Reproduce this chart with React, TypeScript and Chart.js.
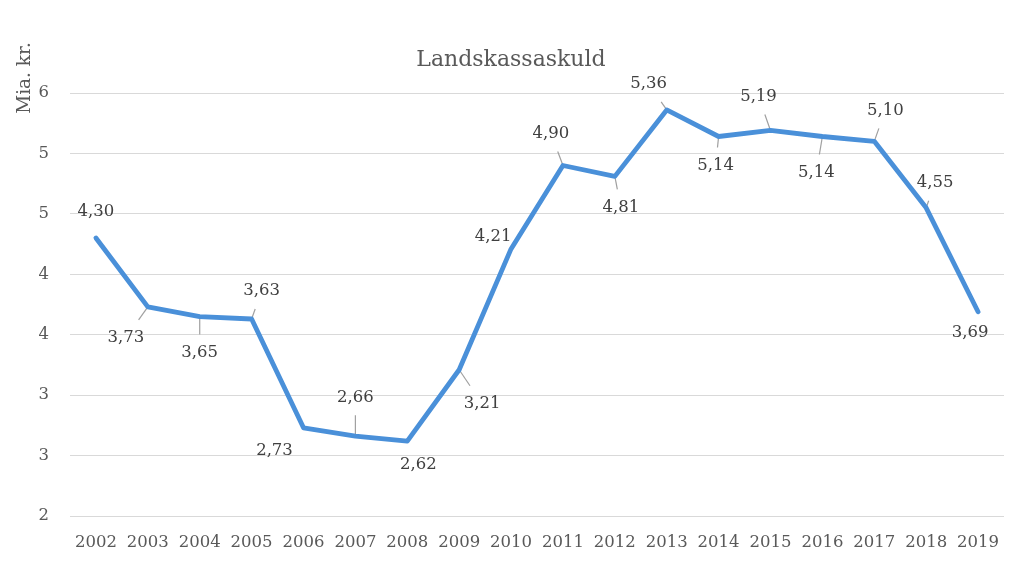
import React, { useEffect, useRef } from "react";
import { Chart, registerables } from "chart.js";

Chart.register(...registerables);

const years = ["2002","2003","2004","2005","2006","2007","2008","2009","2010","2011","2012","2013","2014","2015","2016","2017","2018","2019"];
const debt = [4.30, 3.73, 3.65, 3.63, 2.73, 2.66, 2.62, 3.21, 4.21, 4.90, 4.81, 5.36, 5.14, 5.19, 5.14, 5.10, 4.55, 3.69];
const titleText = "Landskassaskuld";
const yAxisTitle = "Mia. kr.";

// label placement (pixel offsets from the point) and whether a leader line is drawn
const labelOffsets: [number, number][] = [
  [0, -26], [-22, 31], [0, 36], [10, -28], [-29, 23], [0, -39], [11, 24], [23, 34], [-18, -12],
  [-12, -32], [6, 31], [-18, -26], [-3, 29], [-12, -34], [-6, 36], [11, -31], [9, -25], [-8, 21],
];
const leaders = [false, true, true, true, false, true, false, true, false, true, true, true, true, true, true, true, true, false];

const FONT = "'DejaVu Serif', serif";

const fmt = (v: number) => v.toFixed(2).replace(".", ",");

const labelPlugin = {
  id: "dataLabels",
  beforeDatasetsDraw(chart: any) {
    const ctx = chart.ctx;
    const meta = chart.getDatasetMeta(0);
    ctx.save();
    ctx.strokeStyle = "#a0a0a0";
    ctx.lineWidth = 1.2;
    meta.data.forEach((pt: any, i: number) => {
      if (!leaders[i]) return;
      const [dx, dy] = labelOffsets[i];
      const hw = 16, hh = 18;
      const rx = -dx, ry = -dy;
      const tx = Math.abs(rx) <= hw ? 0 : (Math.abs(rx) - hw) / Math.abs(rx);
      const ty = Math.abs(ry) <= hh ? 0 : (Math.abs(ry) - hh) / Math.abs(ry);
      const t = Math.max(tx, ty);
      ctx.beginPath();
      ctx.moveTo(pt.x, pt.y);
      ctx.lineTo(pt.x + dx * t, pt.y + dy * t);
      ctx.stroke();
    });
    ctx.restore();
  },
  afterDatasetsDraw(chart: any) {
    const ctx = chart.ctx;
    const meta = chart.getDatasetMeta(0);
    ctx.save();
    ctx.font = `16.5px ${FONT}`;
    ctx.fillStyle = "#404040";
    ctx.textAlign = "center";
    ctx.textBaseline = "middle";
    meta.data.forEach((pt: any, i: number) => {
      const [dx, dy] = labelOffsets[i];
      ctx.fillText(fmt(debt[i]), pt.x + dx, pt.y + dy);
    });
    ctx.restore();
  },
  afterDraw(chart: any) {
    const ctx = chart.ctx;
    ctx.save();
    ctx.font = `18.5px ${FONT}`;
    ctx.fillStyle = "#595959";
    ctx.textAlign = "center";
    ctx.textBaseline = "middle";
    ctx.translate(25, 78);
    ctx.rotate(-Math.PI / 2);
    ctx.fillText(yAxisTitle, 0, 0);
    ctx.restore();
  },
};

export default function App() {
  const ref = useRef<HTMLCanvasElement>(null);
  useEffect(() => {
    document.body.style.margin = "0";
    const chart = new Chart(ref.current!, {
      type: "line",
      data: {
        labels: years,
        datasets: [
          {
            data: debt,
            borderColor: "#4a90d9",
            borderWidth: 4.8,
            pointRadius: 0,
            tension: 0,
            fill: false,
            borderCapStyle: "round",
            borderJoinStyle: "round",
          },
        ],
      },
      options: {
        animation: false,
        responsive: true,
        maintainAspectRatio: false,
        layout: { padding: { left: 18, right: 18, top: 0, bottom: 0 } },
        plugins: {
          legend: { display: false },
          tooltip: { enabled: false },
          title: {
            display: true,
            text: titleText,
            color: "#595959",
            font: { family: FONT, size: 22, weight: "normal", lineHeight: 1.2 },
            padding: { top: 47, bottom: 19.6 },
          },
        },
        scales: {
          x: {
            offset: true,
            grid: { display: false, drawTicks: false },
            border: { display: false },
            ticks: {
              color: "#595959",
              font: { family: FONT, size: 16.5 },
              padding: 17,
              maxRotation: 0,
              autoSkip: false,
            },
            afterFit(scale: any) {
              scale.height = 58;
            },
          },
          y: {
            min: 2,
            max: 5.5,
            grid: { color: "#d9d9d9", lineWidth: 1, drawTicks: false },
            border: { display: false },
            ticks: {
              stepSize: 0.5,
              color: "#595959",
              font: { family: FONT, size: 16.5 },
              padding: 21,
              callback: (v: any) => String(Math.round(Number(v))),
            },
            afterFit(scale: any) {
              scale.width = 52;
            },
          },
        },
      },
      plugins: [labelPlugin],
    });
    return () => chart.destroy();
  }, []);
  return (
    <div style={{ position: "absolute", left: 0, top: 0, width: 1022, height: 574, background: "#fff" }}>
      <canvas ref={ref} />
    </div>
  );
}
